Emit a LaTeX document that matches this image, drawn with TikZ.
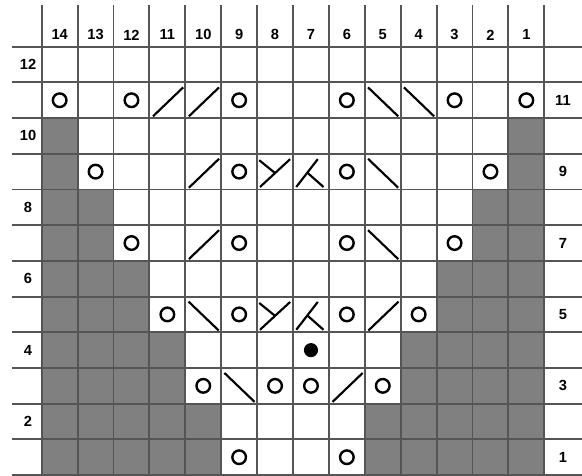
\documentclass[tikz,border=0pt]{standalone}
\usepackage{fontspec}
\setmainfont{Liberation Sans}
\usetikzlibrary{calc}
\definecolor{gridln}{RGB}{85,85,85}
\definecolor{chartgray}{RGB}{128,128,128}

\tikzset{
  lbl/.style={font=\bfseries\fontsize{11}{13}\selectfont,inner sep=0pt},
  gridline/.style={gridln,line width=1.4pt},
  sym/.style={black,line width=1.6pt},
  yo/.pic={\draw[sym,line width=1.8pt] (0,0) circle (5.1pt);},
  rdec/.pic={\draw[sym] (-0.40,-0.45) -- (0.44,0.36);},
  ldec/.pic={\draw[sym] (-0.41,0.36) -- (0.43,-0.45);},
  ydec/.pic={\draw[sym] (-0.42,-0.43) -- (0.42,0.35);
             \draw[sym] (-0.44,0.32) -- (0,-0.04);},
  kdec/.pic={\draw[sym] (-0.41,-0.43) -- (0.19,0.35);
             \draw[sym] (-0.10,-0.03) -- (0.35,-0.43);},
  bump/.pic={\fill[black] (0,0) circle (5.3pt);}
}

\begin{document}
\begin{tikzpicture}[x=26.925pt,y=26.775pt]
  \useasboundingbox (-1.162,-0.025) rectangle (15.05,13.308);
  % shaded edges
  \foreach \k in {0,...,4}{
    \fill[chartgray] (0,2*\k) rectangle ({5-\k},2*\k+2);
    \fill[chartgray] ({9+\k},2*\k) rectangle (14,2*\k+2);
  }
  % grid
  \foreach \y in {0,...,12}
    \draw[gridline] (-0.827,\y) -- (15.05,\y);
  \foreach \x in {0,...,14}
    \draw[gridline] (\x,0) -- (\x,13.17);
  % numbers
  \foreach \c in {1,...,14}
    \node[lbl] (col\c) at ({14.5-\c},12.33) {\c};
  \foreach \r in {2,4,...,12}
    \node[lbl] (row\r) at (-0.38,{\r-0.5}) {\r};
  \foreach \r in {1,3,...,11}
    \node[lbl] (row\r) at (14.52,{\r-0.5}) {\r};
  % stitches
  \foreach \c/\r/\s in {14/11/yo,12/11/yo,11/11/rdec,10/11/rdec,9/11/yo,
      6/11/yo,5/11/ldec,4/11/ldec,3/11/yo,1/11/yo,
      13/9/yo,10/9/rdec,9/9/yo,8/9/ydec,7/9/kdec,6/9/yo,5/9/ldec,2/9/yo,
      12/7/yo,10/7/rdec,9/7/yo,6/7/yo,5/7/ldec,3/7/yo,
      11/5/yo,10/5/ldec,9/5/yo,8/5/ydec,7/5/kdec,6/5/yo,5/5/rdec,4/5/yo,
      7/4/bump,
      10/3/yo,9/3/ldec,8/3/yo,7/3/yo,6/3/rdec,5/3/yo,
      9/1/yo,6/1/yo}
    \pic at ({14.5-\c},{\r-0.5}) {\s};
\end{tikzpicture}
\end{document}
